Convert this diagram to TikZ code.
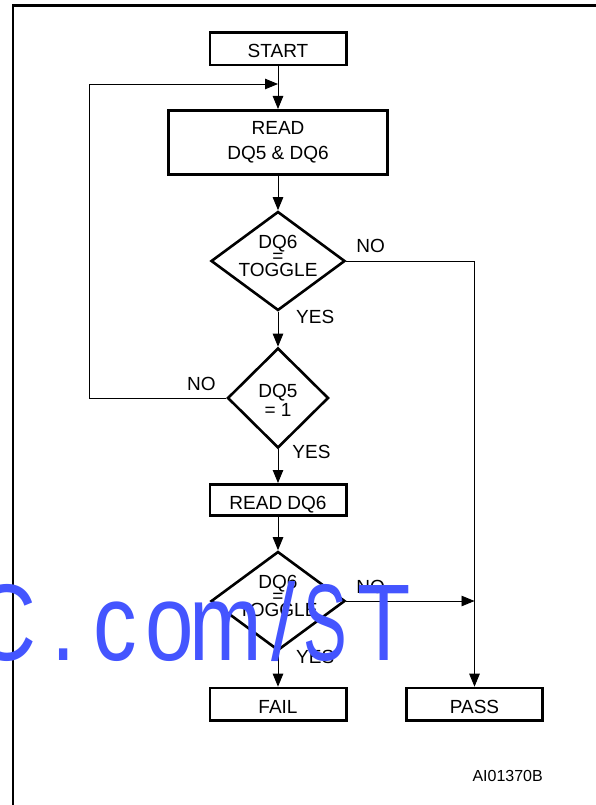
\documentclass[tikz,border=0pt]{standalone}
\usepackage{fontspec}
\setmainfont{Liberation Sans}
\usetikzlibrary{shapes.geometric,calc,arrows.meta}
\definecolor{wmblue}{RGB}{68,85,255}
\newcommand{\tightlines}{\lineskiplimit=-50pt\relax}

\begin{document}
\begin{tikzpicture}[x=1pt,y=-1pt,font=\fontsize{19}{22}\selectfont,
  frm/.style={draw,line width=2.6pt,inner sep=0pt,minimum width=136.4pt},
  box/.style={frm,minimum height=32.4pt,text height=18pt,text depth=0pt},
  dmd/.style={draw,diamond,line width=2.6pt,inner sep=0pt,minimum width=134pt,minimum height=99pt},
  dtxt/.style={align=center,inner sep=0pt},
  lbl/.style={inner sep=0pt},
  flow/.style={line width=0.9pt},
  arr/.style={flow,-{Triangle[length=13pt,width=10.5pt]}},
  wm/.style={text=wmblue,anchor=base,inner sep=0pt,font=\fontsize{109}{109}\selectfont}]
  % Parameters
\def\X{278}     % main column
\def\P{474.5}   % pass column
\def\Lx{89}     % loop column

\useasboundingbox (0,0) rectangle (595,805);
\draw[line width=2.2pt] (13,810) -- (13,5.5) -- (600,5.5);

 \coordinate (lp) at (\Lx,84);
 \coordinate (jn) at (\X,84);

  % Boxes and decisions
\node[box] (start) at (\X,49) {START};
\node[frm,minimum width=219.4pt,minimum height=64.4pt,align=center,font=\fontsize{19}{25}\selectfont] (read) at (\X,142.5) {READ\\DQ5 \& DQ6};
\node[dmd] (d1) at (\X,261) {};
\node[dmd,minimum width=101pt,minimum height=100pt] (d2) at (\X,398) {};
\node[box,minimum height=31.4pt] (rd6) at (\X,500) {READ DQ6};
\node[dmd] (d3) at (\X,601) {};
\node[box] (fail) at (\X,704.2) {FAIL};
\node[box] (pass) at (\P,704.2) {PASS};

\node[dtxt,font=\fontsize{19}{14.2}\selectfont\tightlines] (q1) at ($(d1)+(0,-5)$) {DQ6\\=\\TOGGLE};
\node[dtxt,font=\fontsize{19}{19}\selectfont] (q2) at ($(d2)+(0,2.3)$) {DQ5\\= 1};
\node[dtxt,font=\fontsize{19}{14.2}\selectfont\tightlines] (q3) at ($(d3)+(0,-5)$) {DQ6\\=\\TOGGLE};

  % Flow
\draw[arr] (start) -- (read);
\draw[arr] (read) -- (d1);
\draw[arr] (d1) -- (d2);
\draw[arr] (d2) -- (rd6);
\draw[arr] (rd6) -- (d3);
\draw[arr] (d3) -- (fail);
\draw[arr] (d2.west) -| (lp) -- (jn);
\draw[arr] (d1.east) -| (pass);
\draw[arr] (d3.east) -- (d3.east -| pass.north);

\node[lbl,anchor=base west] (no1) at ($(d1.east)+(9.8,-8.4)$) {NO};
\node[lbl,anchor=base west] (yes1) at ($(d1.south)+(18,11.2)$) {YES};
\node[lbl,anchor=base east] (no2) at ($(d2.west)+(-10.4,-8)$) {NO};
\node[lbl,anchor=base west] (yes2) at ($(d2.south)+(14.2,9.3)$) {YES};
\node[lbl,anchor=base west] (no3) at ($(d3.east)+(9.8,-7.7)$) {NO};
\node[lbl,anchor=base west] (yes3) at ($(d3.south)+(18,11.2)$) {YES};

\node[lbl,anchor=base east,font=\fontsize{16}{19}\selectfont] (code) at (543,781) {AI01370B};

  % Watermark
\foreach \ch/\cx/\sx [count=\i] in {C/5/0.8,./63.5/0.8,c/115/0.8,o/170/0.8,m/226/0.8,{/}/284/0.8,S/325/0.6,T/384/0.8}
  \node[wm] (wm\i) at (\cx,660) {\scalebox{\sx}[1]{\ch}};

\end{tikzpicture}
\end{document}
